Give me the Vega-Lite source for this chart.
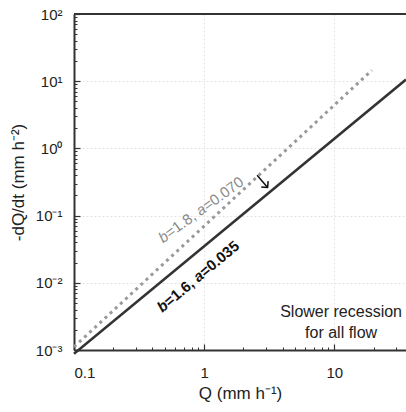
{
  "$schema": "https://vega.github.io/schema/vega-lite/v6.json",
  "autosize": {"type": "none"},
  "width": 332,
  "height": 336,
  "padding": {"left": 74, "top": 14, "right": 0, "bottom": 62},
  "background": "white",
  "config": {
    "view": {"stroke": null},
    "font": "Liberation Sans",
    "axis": {
      "labelFont": "Liberation Sans",
      "titleFont": "Liberation Sans",
      "labelColor": "#222",
      "titleColor": "#222",
      "titleFontWeight": "normal",
      "domainColor": "#333",
      "domainWidth": 2,
      "tickColor": "#333"
    }
  },
  "datasets": {
    "curves": [
      {"series": "b=1.6, a=0.035", "Q": 0.1, "rate": 0.000879},
      {"series": "b=1.6, a=0.035", "Q": 35.5, "rate": 10.58},
      {"series": "b=1.8, a=0.070", "Q": 0.1, "rate": 0.00111},
      {"series": "b=1.8, a=0.070", "Q": 19.4, "rate": 14.55}
    ],
    "labels": [
      {"curve": "solid", "style": "italic", "piece": "b", "Q": 0.4506, "rate": 0.004036},
      {"curve": "solid", "style": "normal", "piece": "=1.6, ", "Q": 0.5102, "rate": 0.004943},
      {"curve": "solid", "style": "italic", "piece": "a", "Q": 0.8542, "rate": 0.01138},
      {"curve": "solid", "style": "normal", "piece": "=0.035", "Q": 0.9567, "rate": 0.01371},
      {"curve": "dashed", "style": "italic", "piece": "b", "Q": 0.4580, "rate": 0.0443},
      {"curve": "dashed", "style": "normal", "piece": "=1.8, ", "Q": 0.5161, "rate": 0.05238},
      {"curve": "dashed", "style": "italic", "piece": "a", "Q": 0.8889, "rate": 0.1124},
      {"curve": "dashed", "style": "normal", "piece": "=0.070", "Q": 1.0018, "rate": 0.133}
    ]
  },
  "layer": [
    {
      "data": {"name": "curves"},
      "transform": [{"filter": "datum.series === 'b=1.6, a=0.035'"}],
      "mark": {"type": "line", "color": "#333", "strokeWidth": 2.5, "clip": false},
      "encoding": {
        "x": {
          "field": "Q", "type": "quantitative",
          "scale": {"type": "log", "domain": [0.1, 35.5], "nice": false},
          "axis": {
            "orient": "bottom",
            "values": [0.1, 1, 10],
            "title": "Q (mm h⁻¹)",
            "titleFontSize": 17,
            "titlePadding": 5,
            "labelFontSize": 15,
            "labelPadding": 21,
            "labelExpr": "datum.value < 0.5 ? '0.1' : datum.value < 5 ? '1' : '10'",
            "tickSize": -6,
            "tickWidth": 1.2,
            "grid": true,
            "gridColor": "#e4e4e4",
            "gridDash": [2, 2],
            "gridWidth": 1
          }
        },
        "y": {
          "field": "rate", "type": "quantitative",
          "scale": {"type": "log", "domain": [0.001, 100], "nice": false},
          "axis": {
            "orient": "left",
            "values": [0.001, 0.01, 0.1, 1, 10, 100],
            "title": "-dQ/dt (mm h⁻²)",
            "titleFontSize": 17,
            "titlePadding": 8,
            "labelFontSize": 15,
            "labelPadding": 18,
            "labelExpr": "datum.value < 0.005 ? '10⁻³' : datum.value < 0.05 ? '10⁻²' : datum.value < 0.5 ? '10⁻¹' : datum.value < 5 ? '10⁰' : datum.value < 50 ? '10¹' : '10²'",
            "tickSize": -6,
            "tickWidth": 1.2,
            "grid": true,
            "gridColor": "#e4e4e4",
            "gridDash": [2, 2],
            "gridWidth": 1
          }
        }
      }
    },
    {
      "data": {"name": "curves"},
      "transform": [{"filter": "datum.series === 'b=1.8, a=0.070'"}],
      "mark": {"type": "line", "color": "#999", "strokeWidth": 3, "strokeDash": [3, 4], "clip": false},
      "encoding": {
        "x": {
          "field": "Q", "type": "quantitative",
          "axis": {
            "orient": "bottom",
            "values": [0.2, 0.3, 0.4, 0.5, 0.6, 0.7, 0.8, 0.9, 2, 3, 4, 5, 6, 7, 8, 9, 20, 30],
            "labels": false, "title": null, "domain": false, "grid": false,
            "tickSize": -3, "tickWidth": 1
          }
        },
        "y": {
          "field": "rate", "type": "quantitative",
          "axis": {
            "orient": "left",
            "values": [0.002, 0.003, 0.004, 0.005, 0.006, 0.007, 0.008, 0.009, 0.02, 0.03, 0.04, 0.05, 0.06, 0.07, 0.08, 0.09, 0.2, 0.3, 0.4, 0.5, 0.6, 0.7, 0.8, 0.9, 2, 3, 4, 5, 6, 7, 8, 9, 20, 30, 40, 50, 60, 70, 80, 90],
            "labels": false, "title": null, "domain": false, "grid": false,
            "tickSize": -3, "tickWidth": 1
          }
        }
      }
    },
    {
      "data": {"values": [{"edge": "top"}]},
      "mark": {"type": "rule", "color": "#333", "strokeWidth": 2},
      "encoding": {"y": {"datum": 100, "type": "quantitative", "axis": null}}
    },
    {
      "data": {"values": [{"Q": 2.55, "rate": 0.40, "Q2": 3.07, "rate2": 0.262}]},
      "mark": {"type": "rule", "color": "#111", "strokeWidth": 1.5},
      "encoding": {
        "x": {"field": "Q", "type": "quantitative", "axis": null},
        "y": {"field": "rate", "type": "quantitative", "axis": null},
        "x2": {"field": "Q2"},
        "y2": {"field": "rate2"}
      }
    },
    {
      "data": {"values": [{"Q": 3.07, "rate": 0.262}]},
      "mark": {"type": "point", "shape": "M-1,-1L0,0L1,-1", "filled": false, "stroke": "#111", "strokeWidth": 1.5, "size": 80, "angle": 320, "opacity": 1},
      "encoding": {
        "x": {"field": "Q", "type": "quantitative", "axis": null},
        "y": {"field": "rate", "type": "quantitative", "axis": null}
      }
    },
    {
      "data": {"name": "labels"},
      "transform": [{"filter": "datum.curve === 'solid' && datum.style === 'italic'"}],
      "mark": {"type": "text", "angle": 320, "fontSize": 15, "fontWeight": "bold", "fontStyle": "italic", "color": "#111", "align": "left", "baseline": "middle"},
      "encoding": {
        "x": {"field": "Q", "type": "quantitative", "axis": null},
        "y": {"field": "rate", "type": "quantitative", "axis": null},
        "text": {"field": "piece"}
      }
    },
    {
      "data": {"name": "labels"},
      "transform": [{"filter": "datum.curve === 'solid' && datum.style === 'normal'"}],
      "mark": {"type": "text", "angle": 320, "fontSize": 15, "fontWeight": "bold", "color": "#111", "align": "left", "baseline": "middle"},
      "encoding": {
        "x": {"field": "Q", "type": "quantitative", "axis": null},
        "y": {"field": "rate", "type": "quantitative", "axis": null},
        "text": {"field": "piece"}
      }
    },
    {
      "data": {"name": "labels"},
      "transform": [{"filter": "datum.curve === 'dashed' && datum.style === 'italic'"}],
      "mark": {"type": "text", "angle": 324, "fontSize": 15, "fontStyle": "italic", "color": "#8a8a8a", "align": "left", "baseline": "middle"},
      "encoding": {
        "x": {"field": "Q", "type": "quantitative", "axis": null},
        "y": {"field": "rate", "type": "quantitative", "axis": null},
        "text": {"field": "piece"}
      }
    },
    {
      "data": {"name": "labels"},
      "transform": [{"filter": "datum.curve === 'dashed' && datum.style === 'normal'"}],
      "mark": {"type": "text", "angle": 324, "fontSize": 15, "color": "#8a8a8a", "align": "left", "baseline": "middle"},
      "encoding": {
        "x": {"field": "Q", "type": "quantitative", "axis": null},
        "y": {"field": "rate", "type": "quantitative", "axis": null},
        "text": {"field": "piece"}
      }
    },
    {
      "data": {"values": [
        {"label": "Slower recession\nfor all flow", "Q": 11.26, "rate": 0.00367}
      ]},
      "mark": {"type": "text", "fontSize": 16, "color": "#222", "align": "center", "baseline": "middle", "lineBreak": "\n", "lineHeight": 21},
      "encoding": {
        "x": {"field": "Q", "type": "quantitative", "axis": null},
        "y": {"field": "rate", "type": "quantitative", "axis": null},
        "text": {"field": "label"}
      }
    }
  ],
  "resolve": {"axis": {"x": "independent", "y": "independent"}}
}
